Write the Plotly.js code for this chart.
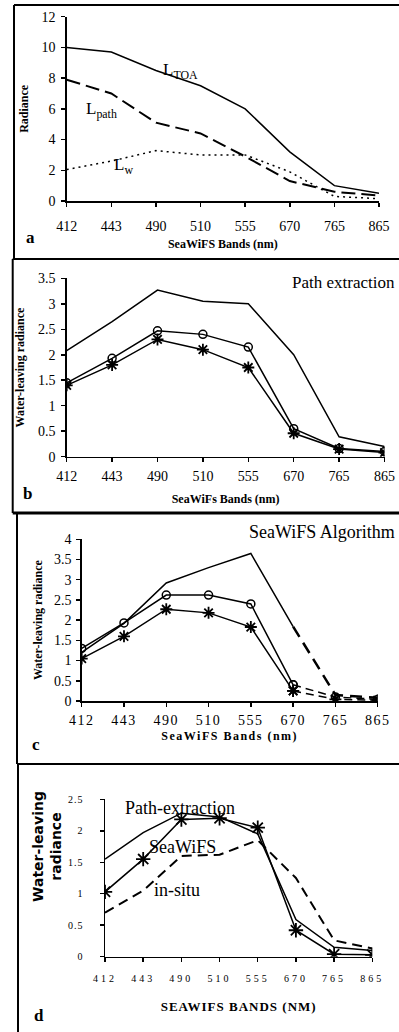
<!DOCTYPE html>
<html>
<head>
<meta charset="utf-8">
<script src="https://cdn.plot.ly/plotly-3.0.1.min.js"></script>
<style>
  html, body { margin: 0; padding: 0; background: #fff; }
  #chart { width: 399px; height: 1032px; }
  .subplot.x3y3 .xaxislayer-above text { letter-spacing: 1.5px; }
  .subplot.x4y4 .xaxislayer-above text { letter-spacing: 3px; }
  .subplot.x4y4 .yaxislayer-above text { letter-spacing: 1px; }
  .g-x3title text { letter-spacing: 1.5px; }
  .g-x4title text { letter-spacing: 1px; }
</style>
</head>
<body>
<div id="chart"></div>
<script>
// ---------- data ----------
const bands = ['412', '443', '490', '510', '555', '670', '765', '865'];

// panel a: radiance components
const aToa  = [10, 9.7, 8.5, 7.5, 6.0, 3.2, 1.0, 0.5];
const aPath = [7.9, 7.0, 5.1, 4.4, 2.9, 1.3, 0.6, 0.35];
const aLw   = [2.05, 2.6, 3.28, 3.0, 3.0, 1.9, 0.3, 0.15];

// panel b: path extraction
const bTop    = [2.08, 2.65, 3.27, 3.05, 3.0, 2.0, 0.39, 0.2];
const bCircle = [1.45, 1.93, 2.47, 2.4, 2.15, 0.55, 0.16, 0.1];
const bStar   = [1.4, 1.8, 2.3, 2.1, 1.75, 0.46, 0.15, 0.08];

// panel c: SeaWiFS algorithm
const cTop    = [1.2, 1.92, 2.92, 3.3, 3.65, 1.84, 0.15, 0.08];
const cCircle = [1.3, 1.93, 2.62, 2.62, 2.4, 0.4, 0.1, 0.04];
const cStar   = [1.05, 1.6, 2.27, 2.18, 1.83, 0.25, 0.04, 0.02];

// panel d: comparison
const dPath    = [1.55, 1.97, 2.28, 2.22, 1.95, 0.59, 0.15, 0.1];
const dSeawifs = [1.03, 1.55, 2.18, 2.2, 2.05, 0.42, 0.04, 0.03];
const dInsitu  = [0.7, 1.05, 1.6, 1.62, 1.85, 1.25, 0.26, 0.13];

// ---------- helpers ----------
const W = 399, H = 1032;
const px = v => v / W;
const py = v => 1 - v / H;
const SERIF = 'Liberation Serif, Times New Roman, serif';
const BLACK = '#000';

function line(x, y, ax, opts) {
  return Object.assign({
    x: x, y: y, xaxis: 'x' + ax, yaxis: 'y' + ax,
    type: 'scatter', mode: 'lines',
    line: { color: BLACK, width: 1.5 },
    hoverinfo: 'skip', showlegend: false
  }, opts || {});
}
const circle = { symbol: 'circle-open', size: 8, color: BLACK, line: { color: BLACK, width: 1.5 } };
const star = { symbol: 'asterisk-open', size: 10, color: BLACK, line: { color: BLACK, width: 1.8 } };

const traces = [
  // a
  line(bands, aToa, ''),
  line(bands, aPath, '', { line: { color: BLACK, width: 2, dash: '14px,6px' } }),
  line(bands, aLw, '', { line: { color: BLACK, width: 1.5, dash: '2px,4px' } }),
  // b
  line(bands, bTop, '2'),
  line(bands, bCircle, '2', { mode: 'lines+markers', marker: circle }),
  line(bands, bStar, '2', { mode: 'lines+markers', marker: star }),
  // c (solid up to 670, dashed after)
  line(bands.slice(0, 6), cTop.slice(0, 6), '3'),
  line(bands.slice(5), cTop.slice(5), '3', { line: { color: BLACK, width: 2.5, dash: '12px,7px' } }),
  line(bands.slice(0, 6), cCircle.slice(0, 6), '3', { mode: 'lines+markers', marker: circle }),
  line(bands.slice(5), cCircle.slice(5), '3', { mode: 'lines+markers', marker: circle, line: { color: BLACK, width: 1.5, dash: '8px,5px' } }),
  line(bands.slice(0, 6), cStar.slice(0, 6), '3', { mode: 'lines+markers', marker: star }),
  line(bands.slice(5), cStar.slice(5), '3', { mode: 'lines+markers', marker: star, line: { color: BLACK, width: 1.5, dash: '8px,5px' } }),
  // d
  line(bands, dPath, '4'),
  line(bands, dSeawifs, '4', { mode: 'lines+markers', marker: { symbol: 'asterisk-open', size: 12, color: BLACK, line: { color: BLACK, width: 1.8 } } }),
  line(bands, dInsitu, '4', { line: { color: BLACK, width: 2, dash: '10px,6px' } })
];

function xAxis(x0, x1, anchor, tickSize, title, titleSize, standoff, lblStandoff) {
  return {
    domain: [px(x0), px(x1)], anchor: anchor, type: 'category',
    categoryorder: 'array', categoryarray: bands, range: [0, 7],
    showline: true, linecolor: BLACK, linewidth: 1.5, mirror: false,
    ticks: 'outside', ticklen: 4, tickwidth: 1.5, tickcolor: BLACK,
    showgrid: false, zeroline: false, fixedrange: true,
    ticklabelstandoff: lblStandoff,
    tickfont: { family: SERIF, size: tickSize, color: BLACK },
    title: { text: title, standoff: standoff, font: { family: SERIF, size: titleSize, color: BLACK, weight: 'bold' } }
  };
}
function yAxis(y0, y1, anchor, range, dtick, tickSize, title, titleSize, standoff, lblStandoff) {
  const ax = {
    domain: [py(y0), py(y1)], anchor: anchor, range: range, dtick: dtick, tick0: 0,
    showline: true, linecolor: BLACK, linewidth: 1.5,
    ticks: 'outside', ticklen: 4, tickwidth: 1.5, tickcolor: BLACK,
    showgrid: false, zeroline: false, fixedrange: true,
    ticklabelstandoff: lblStandoff,
    tickfont: { family: SERIF, size: tickSize, color: BLACK }
  };
  if (title) ax.title = { text: title, standoff: standoff, font: { family: SERIF, size: titleSize, color: BLACK, weight: 'bold' } };
  return ax;
}

function ann(text, x, y, size, opts) {
  return Object.assign({
    text: text, xref: 'paper', yref: 'paper', x: px(x), y: py(y),
    xanchor: 'center', yanchor: 'middle', showarrow: false,
    font: { family: SERIF, size: size, color: BLACK }
  }, opts || {});
}

function seg(x0, y0, x1, y1, w) {
  return { type: 'line', xref: 'paper', yref: 'paper', x0: px(x0), y0: py(y0), x1: px(x1), y1: py(y1),
           line: { color: BLACK, width: w } };
}

const layout = {
  width: W, height: H,
  margin: { l: 0, r: 0, t: 0, b: 0 },
  paper_bgcolor: '#fff', plot_bgcolor: 'rgba(0,0,0,0)',
  showlegend: false,
  xaxis:  xAxis(66.7, 379, 'y', 14, 'SeaWiFS Bands (nm)', 12, 6, 8),
  yaxis:  yAxis(201, 16.7, 'x', [0, 12], 2, 14, 'Radiance', 12, 10, 3),
  xaxis2: xAxis(66.7, 384.5, 'y2', 14, 'SeaWiFs Bands (nm)', 12, 11, 2),
  yaxis2: yAxis(456.7, 278.3, 'x2', [0, 3.5], 0.5, 14, 'Water-leaving radiance', 12, 10, 3),
  xaxis3: xAxis(81.7, 377.7, 'y3', 14, 'SeaWiFS Bands (nm)', 12, 4, 2),
  yaxis3: yAxis(701, 539.3, 'x3', [0, 4], 0.5, 14, 'Water-leaving radiance', 12, 8, 2),
  xaxis4: xAxis(105, 372.3, 'y4', 10, 'SEAWIFS BANDS (NM)', 13, 18, 8),
  yaxis4: yAxis(956.7, 799.3, 'x4', [0, 2.5], 0.5, 10, null, 0, 0, 14),
  annotations: [
    ann('L<sub>TOA</sub>', 180, 71, 17),
    ann('L<sub>path</sub>', 101, 110, 17),
    ann('L<sub>w</sub>', 123, 166, 17),
    ann('Path extraction', 397, 282, 17, { xanchor: 'right' }),
    ann('SeaWiFS Algorithm', 247, 532, 18, { xanchor: 'left' }),
    ann('Path-extraction', 180, 808, 18),
    ann('SeaWiFS', 182, 847, 18),
    ann('in-situ', 177, 890, 18),
    ann('Water-leaving<br>radiance', 47, 847, 14, { textangle: -90, font: { family: 'DejaVu Sans, sans-serif', size: 14, color: BLACK, weight: 'bold' } }),
    ann('a', 30, 238, 17, { font: { family: SERIF, size: 17, color: BLACK, weight: 'bold' } }),
    ann('b', 27, 494, 17, { font: { family: SERIF, size: 17, color: BLACK, weight: 'bold' } }),
    ann('c', 36, 744, 17, { font: { family: SERIF, size: 17, color: BLACK, weight: 'bold' } }),
    ann('d', 39, 1015, 17, { font: { family: SERIF, size: 17, color: BLACK, weight: 'bold' } })
  ],
  shapes: [
    // panel a frame
    seg(14, 5, 400, 5, 2), seg(14, 5, 14, 259, 2),
    // shared a/b border and panel b frame
    seg(12.7, 259, 400, 259, 2), seg(12.7, 259, 12.7, 513, 2),
    // shared b/c border and panel c frame
    seg(12.7, 513, 400, 513, 3), seg(17, 513, 17, 764, 2),
    // shared c/d border and panel d frame
    seg(17, 764, 400, 764, 2), seg(18, 764, 18, 1032, 2)
  ]
};

Plotly.newPlot('chart', traces, layout, { displayModeBar: false, staticPlot: true });
</script>
</body>
</html>
